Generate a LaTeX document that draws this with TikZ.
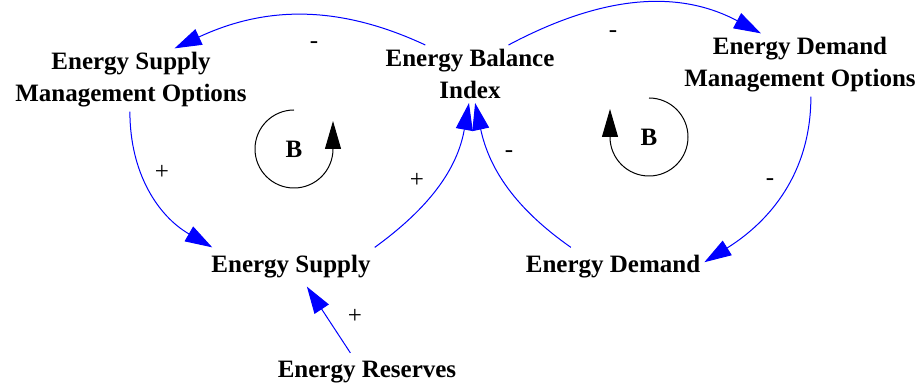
\documentclass[tikz,border=0pt]{standalone}
\usepackage{fontspec}
\setmainfont{Liberation Serif}
\usetikzlibrary{arrows.meta}
\definecolor{linkblue}{HTML}{0000FF}
\tikzset{
  var/.style={align=center, inner xsep=4pt, inner ysep=4pt,
    font=\bfseries\fontsize{25}{32}\selectfont},
  single/.style={var, inner ysep=8pt},
  link/.style={draw=linkblue, line width=1pt,
    -{Triangle[length=27pt,width=17pt,fill=linkblue]}},
  sign/.style={inner sep=0pt, font=\fontsize{25}{30}\selectfont},
  loopmark/.style={inner sep=0pt, font=\bfseries\fontsize{25}{30}\selectfont},
  looparrow/.style={draw=black, line width=1pt,
    -{Triangle[length=28pt,width=16pt]}}
}

\begin{document}
\begin{tikzpicture}[x=1pt, y=1pt]
  \useasboundingbox (0,0) rectangle (924,391);

  % variables
  \node[var] (supplyOpt) at (131,311) {Energy Supply\\Management Options};
  \node[var] (balance) at (470,317) {Energy Balance\\Index};
  \node[var] (demandOpt) at (800,326) {Energy Demand\\Management Options};
  \node[single] (supply) at (291,124) {Energy Supply};
  \node[single] (demand) at (613,124) {Energy Demand};
  \node[single] (reserves) at (367,19) {Energy Reserves};

  % causal links
  \draw[link] (balance.147) to[out=155, in=25] (supplyOpt.36);
  \draw[link] (balance.37) to[out=28, in=152] (demandOpt.141);
  \draw[link] (supplyOpt.-92) to[out=-90, in=150] (supply.166);
  \draw[link] (supply.north east) to[out=36, in=-100] (balance.-92);
  \draw[link] (demand.155) to[out=145, in=-78] (balance.-80);
  \draw[link] (demandOpt.-71) to[out=-90, in=32] (demand.3);
  \draw[link] (reserves.131) -- (supply.-51);

  % polarities
  \node[sign] (s1) at (314,346) {-};
  \node[sign] (s2) at (613,357) {-};
  \node[sign] (s3) at (162,219) {+};
  \node[sign] (s4) at (417,211) {+};
  \node[sign] (s5) at (509,237) {-};
  \node[sign] (s6) at (770,209) {-};
  \node[sign] (s7) at (355,75) {+};

  % loop markers
  \node[loopmark] (loopL) at (294,242) {B};
  \node[loopmark] (loopR) at (649,254) {B};
  \draw[looparrow] (loopL.center) ++(90:39pt) arc[start angle=90, end angle=360, radius=39pt] -- ++(0,28);
  \draw[looparrow] (loopR.center) ++(90:39pt) arc[start angle=90, end angle=-180, radius=39pt] -- ++(0,28);
\end{tikzpicture}
\end{document}
